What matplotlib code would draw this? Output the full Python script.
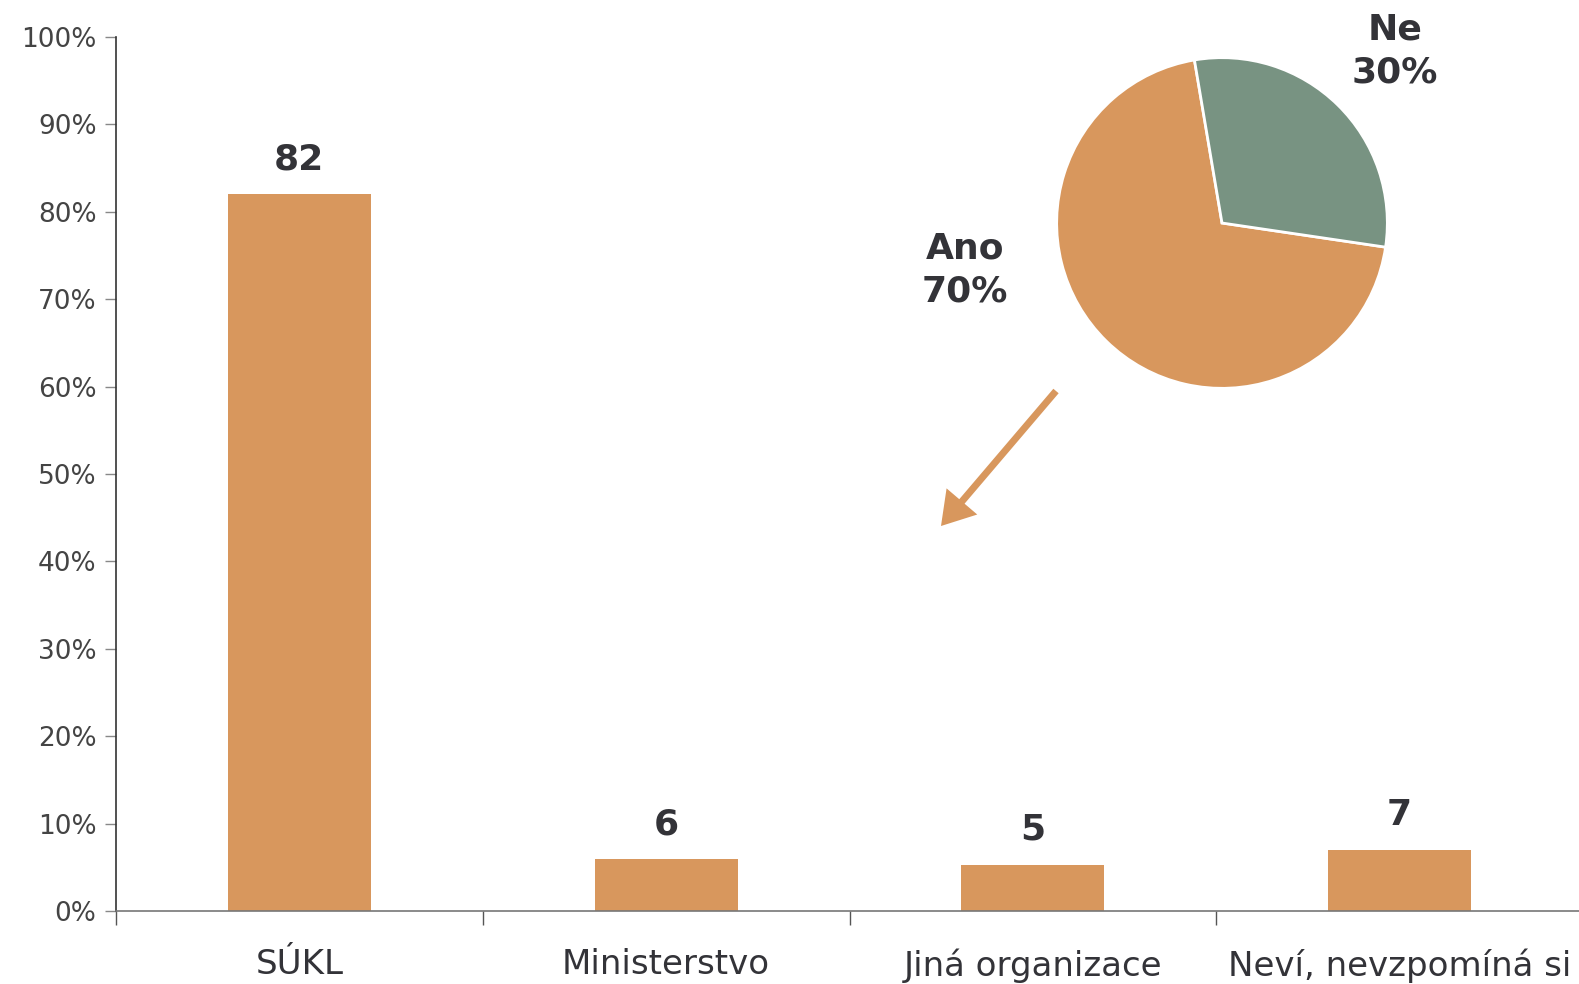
import matplotlib.pyplot as plt
import numpy as np

# --- data ---
categories = ['SÚKL', 'Ministerstvo', 'Jiná organizace', 'Neví, nevzpomíná si']
shares = [82, 5.9, 5.3, 7.0]
pie_labels = ['Ano', 'Ne']
pie_values = [70, 30]
y_ticks = [0, 10, 20, 30, 40, 50, 60, 70, 80, 90, 100]

ORANGE = '#D8975D'
GREEN = '#789382'
DARK = '#333338'
TICKC = '#444444'

W, H = 1579, 984
fig = plt.figure(figsize=(W / 100, H / 100), dpi=100)
plt.rcParams['font.family'] = ['DejaVu Sans']

# main bar axes (pixel positions converted to figure fractions)
ax = fig.add_axes([116 / W, 1 - 911 / H, 1467 / W, 874 / H])
x = np.arange(len(categories))
ax.bar(x, shares, width=0.39, color=ORANGE, linewidth=0, zorder=2)
for xi, v in zip(x, shares):
    ax.annotate(f'{v:.0f}', (xi, v), xytext=(0, 25), textcoords='offset points',
                ha='center', va='center', fontsize=26, fontweight='bold', color=DARK)

ax.set_xlim(-0.5, len(categories) - 0.5)
ax.set_ylim(0, 100)
ax.set_yticks(y_ticks)
ax.set_yticklabels([f'{t}%' for t in y_ticks], fontsize=19, color=TICKC)
ax.tick_params(axis='y', length=8, width=1, color='#888888', direction='out', pad=6)

# category boundaries as major ticks, names on minor ticks
ax.set_xticks(np.arange(len(categories) + 1) - 0.5)
ax.set_xticklabels([])
ax.set_xticks(x, minor=True)
ax.set_xticklabels(categories, minor=True, fontsize=24.5, color=DARK)
ax.tick_params(axis='x', which='major', length=10, width=1, color='#555555')
ax.tick_params(axis='x', which='minor', length=0, pad=27)

for s in ['top', 'right']:
    ax.spines[s].set_visible(False)
ax.spines['left'].set_color('#333333')
ax.spines['bottom'].set_color('#777777')
ax.spines['left'].set_linewidth(1.2)
ax.spines['bottom'].set_linewidth(1.2)

# inset pie
cx, cy, r = 1222, 223, 167
pax = fig.add_axes([(cx - r) / W, 1 - (cy + r) / H, 2 * r / W, 2 * r / H])
pax.pie(pie_values, colors=[ORANGE, GREEN], startangle=99.6, counterclock=True,
        wedgeprops=dict(edgecolor='white', linewidth=2))
pax.set_xlim(-1.01, 1.01)
pax.set_ylim(-1.01, 1.01)
pax.set_aspect('equal')

fig.text(965 / W, 1 - 270 / H, f'{pie_labels[0]}\n{pie_values[0]}%', ha='center', va='center',
         fontsize=26, fontweight='bold', color=DARK, linespacing=1.3)
fig.text(1395 / W, 1 - 51 / H, f'{pie_labels[1]}\n{pie_values[1]}%', ha='center', va='center',
         fontsize=26, fontweight='bold', color=DARK, linespacing=1.3)

# arrow from the pie down to the bars
fig.add_artist(plt.matplotlib.patches.FancyArrowPatch(
    (1056 / W, 1 - 391 / H), (941 / W, 1 - 526 / H), transform=fig.transFigure,
    arrowstyle='-|>,head_length=16,head_width=10', mutation_scale=1,
    color=ORANGE, linewidth=5, shrinkA=0, shrinkB=0, joinstyle='miter', capstyle='butt'))

fig.savefig('out.png', dpi=100)
